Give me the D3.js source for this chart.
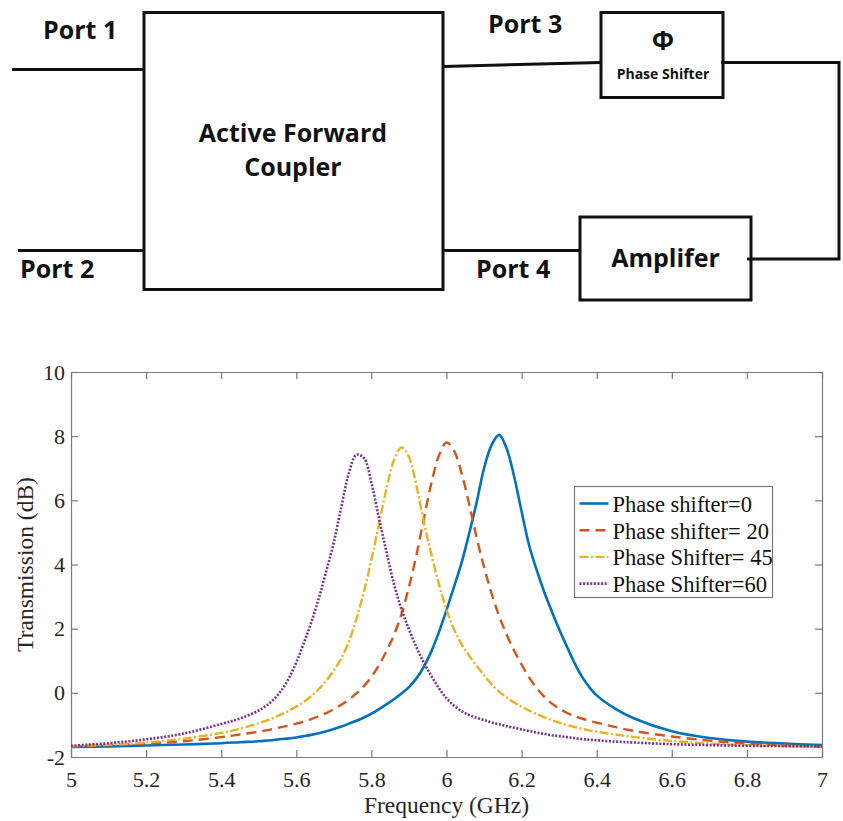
<!DOCTYPE html>
<html>
<head>
<meta charset="utf-8">
<script src="https://cdn.jsdelivr.net/npm/d3@7"></script>
<style>
  body { margin: 0; background: #fff; }
  svg { display: block; }
</style>
</head>
<body>
<div id="chart"></div>
<script>
// frequency grid (GHz) and transmission (dB)
var freqGHz = [5.0, 5.1, 5.2, 5.3, 5.4, 5.45, 5.5, 5.52, 5.54, 5.56,
  5.58, 5.6, 5.62, 5.64, 5.66, 5.68, 5.7, 5.72, 5.74, 5.76,
  5.78, 5.8, 5.82, 5.84, 5.86, 5.88, 5.9, 5.92, 5.94, 5.96,
  5.98, 6.0, 6.02, 6.04, 6.06, 6.08, 6.1, 6.12, 6.14, 6.16,
  6.18, 6.2, 6.22, 6.24, 6.26, 6.28, 6.3, 6.32, 6.34, 6.36,
  6.38, 6.4, 6.45, 6.5, 6.6, 6.7, 6.8, 6.9, 7.0];

var dbShift0 = [-1.69, -1.67, -1.64, -1.61, -1.57, -1.54, -1.51, -1.49, -1.47, -1.44,
  -1.42, -1.39, -1.35, -1.31, -1.26, -1.2, -1.13, -1.05, -0.96, -0.87,
  -0.77, -0.65, -0.51, -0.36, -0.2, -0.02, 0.18, 0.45, 0.82, 1.3,
  1.9, 2.58, 3.3, 4.05, 4.95, 5.92, 7.0, 7.72, 8.04, 7.62,
  6.75, 5.65, 4.6, 3.83, 3.15, 2.55, 1.98, 1.46, 0.95, 0.52,
  0.18, -0.08, -0.5, -0.8, -1.2, -1.41, -1.52, -1.58, -1.63];

var dbShift20 = [-1.67, -1.63, -1.58, -1.51, -1.38, -1.3, -1.21, -1.17, -1.12, -1.07,
  -1.02, -0.96, -0.9, -0.82, -0.73, -0.63, -0.51, -0.37, -0.21, -0.02,
  0.21, 0.5, 0.86, 1.3, 1.8, 2.45, 3.3, 4.3, 5.45, 6.55,
  7.4, 7.8, 7.55, 6.85, 5.9, 4.85, 3.92, 3.1, 2.4, 1.82,
  1.32, 0.88, 0.48, 0.15, -0.12, -0.33, -0.49, -0.62, -0.72, -0.8,
  -0.87, -0.93, -1.07, -1.19, -1.36, -1.49, -1.58, -1.64, -1.68];

var dbShift45 = [-1.66, -1.62, -1.55, -1.43, -1.25, -1.12, -0.95, -0.87, -0.78, -0.67,
  -0.56, -0.43, -0.28, -0.1, 0.12, 0.38, 0.7, 1.08, 1.6, 2.3,
  3.15, 4.15, 5.25, 6.35, 7.25, 7.65, 7.35, 6.45, 5.3, 4.3,
  3.38, 2.6, 1.98, 1.52, 1.16, 0.85, 0.55, 0.27, 0.04, -0.14,
  -0.3, -0.43, -0.55, -0.66, -0.76, -0.85, -0.93, -1.0, -1.06, -1.12,
  -1.17, -1.21, -1.3, -1.38, -1.5, -1.58, -1.63, -1.66, -1.68];

var dbShift60 = [-1.65, -1.57, -1.45, -1.27, -0.97, -0.8, -0.55, -0.4, -0.2, 0.07,
  0.45, 0.95, 1.55, 2.2, 2.95, 3.8, 4.7, 5.8, 6.85, 7.42,
  7.32, 6.55, 5.45, 4.4, 3.4, 2.6, 1.98, 1.42, 0.93, 0.52,
  0.14, -0.17, -0.4, -0.57, -0.69, -0.78, -0.85, -0.92, -0.98, -1.04,
  -1.09, -1.14, -1.19, -1.24, -1.28, -1.32, -1.35, -1.38, -1.41, -1.44,
  -1.46, -1.48, -1.52, -1.55, -1.6, -1.63, -1.65, -1.66, -1.67];

var seriesNames = ["Phase shifter=0", "Phase shifter= 20", "Phase Shifter= 45", "Phase Shifter=60"];
var seriesValues = [dbShift0, dbShift20, dbShift45, dbShift60];
var xTicks = [5, 5.2, 5.4, 5.6, 5.8, 6, 6.2, 6.4, 6.6, 6.8, 7];
var yTicks = [-2, 0, 2, 4, 6, 8, 10];

var seriesStyle = [
  {color: "#0072BD", width: 2.6, dash: null},
  {color: "#D95319", width: 2.4, dash: "10,6"},
  {color: "#EDB120", width: 2.4, dash: "9,2.5,2,2.5"},
  {color: "#7E2F8E", width: 2.6, dash: "2,1.6"}
];

var W = 843, H = 821;
var svg = d3.select("#chart").append("svg")
    .attr("width", W)
    .attr("height", H);

// ---------- block diagram ----------
var diag = svg.append("g")
    .attr("fill", "none")
    .attr("stroke", "#111")
    .attr("stroke-width", 3);

// boxes
diag.append("rect").attr("x", 144).attr("y", 12.5).attr("width", 299).attr("height", 277);
diag.append("rect").attr("x", 601).attr("y", 12.5).attr("width", 122).attr("height", 85);
diag.append("rect").attr("x", 580).attr("y", 217).attr("width", 171).attr("height", 83);

// wires
diag.append("line").attr("x1", 12).attr("y1", 69.5).attr("x2", 144).attr("y2", 69.5);
diag.append("line").attr("x1", 18).attr("y1", 250.5).attr("x2", 144).attr("y2", 250.5);
diag.append("line").attr("x1", 443).attr("y1", 66.5).attr("x2", 601).attr("y2", 62.5);
diag.append("line").attr("x1", 443).attr("y1", 250.5).attr("x2", 580).attr("y2", 250.5);
diag.append("polyline").attr("points", "721,62.5 839,62.5 839,259 747,259");

var diagText = svg.append("g")
    .attr("font-family", "'Open Sans', sans-serif")
    .attr("font-weight", 700)
    .attr("fill", "#111");

function label(x, y, txt, size, anchor) {
  diagText.append("text")
    .attr("x", x).attr("y", y)
    .attr("font-size", size)
    .attr("text-anchor", anchor || "start")
    .text(txt);
}
label(43, 39, "Port 1", 25);
label(488, 33, "Port 3", 25);
label(20, 278, "Port 2", 25);
label(476, 278, "Port 4", 25);
label(293, 141.5, "Active Forward", 25, "middle");
label(293, 176, "Coupler", 25, "middle");
label(663, 50, "\u03A6", 26, "middle");
label(663, 79, "Phase Shifter", 14, "middle");
label(665.5, 267, "Amplifer", 25, "middle");

// ---------- transmission chart ----------
var plot = {left: 71, right: 822, top: 372, bottom: 757};
var tickFont = "'Liberation Serif', 'Times New Roman', serif";

var x = d3.scaleLinear().domain([5, 7]).range([plot.left, plot.right]);
var y = d3.scaleLinear().domain([-2, 10]).range([plot.bottom, plot.top]);

var fmt = function(d) { return String(+d.toFixed(1)); };

function styleAxis(g) {
  g.selectAll("path.domain").attr("stroke", "#7a7a7a").attr("stroke-width", 1.2);
  g.selectAll(".tick line").attr("stroke", "#7a7a7a").attr("stroke-width", 1.2);
  g.selectAll(".tick text")
    .attr("fill", "#262626")
    .attr("font-family", tickFont)
    .attr("font-size", 22);
}

svg.append("g")
  .attr("transform", "translate(0," + plot.bottom + ")")
  .call(d3.axisBottom(x).tickValues(xTicks).tickFormat(fmt).tickSizeInner(-7).tickSizeOuter(0).tickPadding(14))
  .call(styleAxis);

svg.append("g")
  .attr("transform", "translate(0," + plot.top + ")")
  .call(d3.axisTop(x).tickValues(xTicks).tickFormat("").tickSizeInner(-7).tickSizeOuter(0))
  .call(styleAxis);

svg.append("g")
  .attr("transform", "translate(" + plot.left + ",0)")
  .call(d3.axisLeft(y).tickValues(yTicks).tickFormat(fmt).tickSizeInner(-7).tickSizeOuter(0).tickPadding(6))
  .call(styleAxis);

svg.append("g")
  .attr("transform", "translate(" + plot.right + ",0)")
  .call(d3.axisRight(y).tickValues(yTicks).tickFormat("").tickSizeInner(-7).tickSizeOuter(0))
  .call(styleAxis);

svg.append("defs").append("clipPath").attr("id", "plotClip")
  .append("rect")
    .attr("x", plot.left).attr("y", plot.top)
    .attr("width", plot.right - plot.left).attr("height", plot.bottom - plot.top);

var line = d3.line()
    .x(function(d) { return x(d[0]); })
    .y(function(d) { return y(d[1]); })
    .curve(d3.curveCatmullRom.alpha(0.5));

var lines = svg.append("g").attr("clip-path", "url(#plotClip)");
seriesValues.forEach(function(vals, i) {
  var pts = freqGHz.map(function(f, j) { return [f, vals[j]]; });
  var s = seriesStyle[i];
  lines.append("path")
    .datum(pts)
    .attr("fill", "none")
    .attr("stroke", s.color)
    .attr("stroke-width", s.width)
    .attr("stroke-dasharray", s.dash)
    .attr("stroke-linejoin", "round")
    .attr("d", line);
});

// axis titles
svg.append("text")
  .attr("x", (plot.left + plot.right) / 2)
  .attr("y", 813)
  .attr("text-anchor", "middle")
  .attr("font-family", tickFont)
  .attr("font-size", 23.5)
  .attr("fill", "#262626")
  .text("Frequency (GHz)");

svg.append("text")
  .attr("transform", "translate(33," + ((plot.top + plot.bottom) / 2) + ") rotate(-90)")
  .attr("text-anchor", "middle")
  .attr("font-family", tickFont)
  .attr("font-size", 23.5)
  .attr("fill", "#262626")
  .text("Transmission (dB)");

// legend
var legend = svg.append("g").attr("transform", "translate(574.5,486.5)");
legend.append("rect")
  .attr("width", 198).attr("height", 111)
  .attr("fill", "#fff")
  .attr("stroke", "#7a7a7a")
  .attr("stroke-width", 1.2);

seriesNames.forEach(function(name, i) {
  var cy = 17 + i * 26.7;
  var s = seriesStyle[i];
  legend.append("line")
    .attr("x1", 5).attr("x2", 34)
    .attr("y1", cy).attr("y2", cy)
    .attr("stroke", s.color)
    .attr("stroke-width", s.width)
    .attr("stroke-dasharray", s.dash);
  legend.append("text")
    .attr("x", 38)
    .attr("y", cy + 8.3)
    .attr("font-family", tickFont)
    .attr("font-size", 22.5)
    .attr("fill", "#111")
    .text(name);
});
</script>
</body>
</html>
